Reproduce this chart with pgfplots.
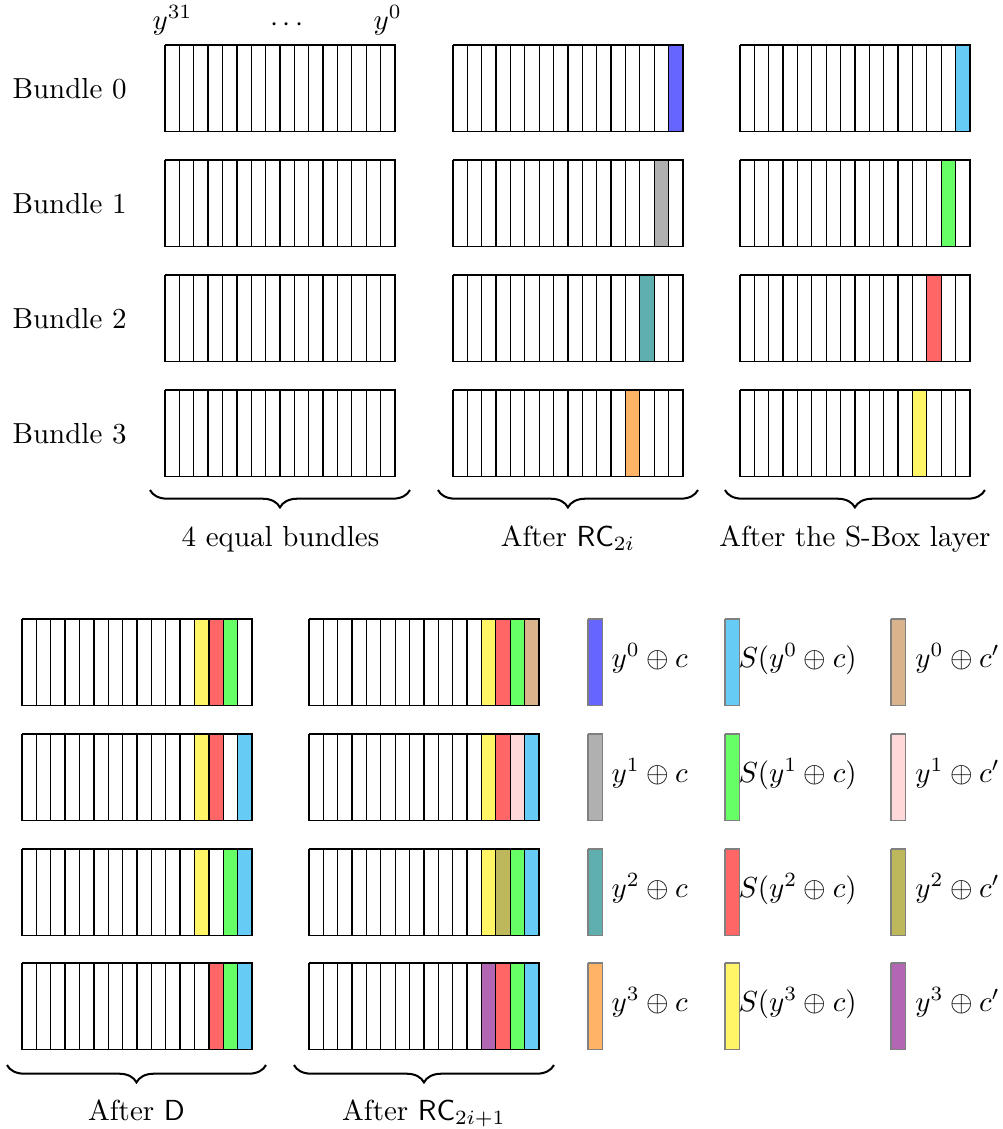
\documentclass[border=0pt]{standalone}
\usepackage{pgfplots}
\pgfplotsset{compat=1.18}
\usetikzlibrary{decorations.pathreplacing}
\definecolor{cB}{HTML}{6666FF}
\definecolor{cG}{HTML}{B0B0B0}
\definecolor{cT}{HTML}{60AFAF}
\definecolor{cO}{HTML}{FFB366}
\definecolor{cC}{HTML}{66CCF5}
\definecolor{cGr}{HTML}{66FF66}
\definecolor{cR}{HTML}{FF6666}
\definecolor{cY}{HTML}{FFF566}
\definecolor{cTan}{HTML}{D9B38C}
\definecolor{cP}{HTML}{FFD9D9}
\definecolor{cOl}{HTML}{BDB85C}
\definecolor{cV}{HTML}{B366B3}
\newcommand\cellw{14.375}
% x0, y0 (top-left of block), column, fill, draw
\newcommand\cell[5]{%
  \pgfmathsetmacro\xa{#1+#3*\cellw}%
  \pgfmathsetmacro\xb{\xa+\cellw}%
  \pgfmathsetmacro\yb{#2+86.5}%
  \edef\tmp{\noexpand\addplot[draw=#5,fill=#4,line width=0.45pt,forget plot] coordinates {(\xa,#2) (\xb,#2) (\xb,\yb) (\xa,\yb) (\xa,#2)};}\tmp}
\newcommand\blk[2]{\pgfplotsinvokeforeach{0,...,15}{\cell{#1}{#2}{##1}{white}{black}}}
\newcommand\cc[4]{\cell{#1}{#2}{#3}{#4}{black}}
\newcommand\lb[3]{\cell{#1}{#2}{0}{#3}{gray}}
\begin{document}
\begin{tikzpicture}
\begin{axis}[
  width=346pt, height=389.5pt, scale only axis,
  xmin=0, xmax=1003, ymin=0, ymax=1129, y dir=reverse,
  hide axis, clip=false]
% empty bundles
\blk{165}{45}\blk{165}{160}\blk{165}{275}\blk{165}{390}
\blk{453}{45}\blk{453}{160}\blk{453}{275}\blk{453}{390}
\blk{740}{45}\blk{740}{160}\blk{740}{275}\blk{740}{390}
\blk{22}{619}\blk{22}{734}\blk{22}{849}\blk{22}{963}
\blk{309}{619}\blk{309}{734}\blk{309}{849}\blk{309}{963}
% After RC_2i
\cc{453}{45}{15}{cB}\cc{453}{160}{14}{cG}\cc{453}{275}{13}{cT}\cc{453}{390}{12}{cO}
% After S-box
\cc{740}{45}{15}{cC}\cc{740}{160}{14}{cGr}\cc{740}{275}{13}{cR}\cc{740}{390}{12}{cY}
% After D
\cc{22}{619}{12}{cY}\cc{22}{619}{13}{cR}\cc{22}{619}{14}{cGr}
\cc{22}{734}{12}{cY}\cc{22}{734}{13}{cR}\cc{22}{734}{15}{cC}
\cc{22}{849}{12}{cY}\cc{22}{849}{14}{cGr}\cc{22}{849}{15}{cC}
\cc{22}{963}{13}{cR}\cc{22}{963}{14}{cGr}\cc{22}{963}{15}{cC}
% After RC_2i+1
\cc{309}{619}{12}{cY}\cc{309}{619}{13}{cR}\cc{309}{619}{14}{cGr}\cc{309}{619}{15}{cTan}
\cc{309}{734}{12}{cY}\cc{309}{734}{13}{cR}\cc{309}{734}{14}{cP}\cc{309}{734}{15}{cC}
\cc{309}{849}{12}{cY}\cc{309}{849}{13}{cOl}\cc{309}{849}{14}{cGr}\cc{309}{849}{15}{cC}
\cc{309}{963}{12}{cV}\cc{309}{963}{13}{cR}\cc{309}{963}{14}{cGr}\cc{309}{963}{15}{cC}
% legend bars
\lb{588}{619}{cB}\lb{588}{734}{cG}\lb{588}{849}{cT}\lb{588}{963}{cO}
\lb{725}{619}{cC}\lb{725}{734}{cGr}\lb{725}{849}{cR}\lb{725}{963}{cY}
\lb{891}{619}{cTan}\lb{891}{734}{cP}\lb{891}{849}{cOl}\lb{891}{963}{cV}
% texts
\node[anchor=base west,inner sep=0] at (12,98) {Bundle 0};
\node[anchor=base west,inner sep=0] at (12,213) {Bundle 1};
\node[anchor=base west,inner sep=0] at (12,328) {Bundle 2};
\node[anchor=base west,inner sep=0] at (12,443) {Bundle 3};
\node[anchor=base west,inner sep=0] at (152,29) {$y^{31}$};
\node[anchor=base,inner sep=0] at (287,31) {$\cdots$};
\node[anchor=base west,inner sep=0] at (373,29) {$y^{0}$};
% legend texts
\node[anchor=base west,inner sep=0] at (611,667.5) {$y^0\oplus c$};
\node[anchor=base west,inner sep=0] at (611,782.5) {$y^1\oplus c$};
\node[anchor=base west,inner sep=0] at (611,897.5) {$y^2\oplus c$};
\node[anchor=base west,inner sep=0] at (611,1011.5) {$y^3\oplus c$};
\node[anchor=base west,inner sep=0] at (738,667.5) {$S(y^0\oplus c)$};
\node[anchor=base west,inner sep=0] at (738,782.5) {$S(y^1\oplus c)$};
\node[anchor=base west,inner sep=0] at (738,897.5) {$S(y^2\oplus c)$};
\node[anchor=base west,inner sep=0] at (738,1011.5) {$S(y^3\oplus c)$};
\node[anchor=base west,inner sep=0] at (915,667.5) {$y^0\oplus c'$};
\node[anchor=base west,inner sep=0] at (915,782.5) {$y^1\oplus c'$};
\node[anchor=base west,inner sep=0] at (915,897.5) {$y^2\oplus c'$};
\node[anchor=base west,inner sep=0] at (915,1011.5) {$y^3\oplus c'$};
% braces
\draw[decorate,decoration={brace,mirror,amplitude=6pt},line width=0.7pt] (150,490) -- (410,490);
\draw[decorate,decoration={brace,mirror,amplitude=6pt},line width=0.7pt] (438,490) -- (698,490);
\draw[decorate,decoration={brace,mirror,amplitude=6pt},line width=0.7pt] (725,490) -- (985,490);
\draw[decorate,decoration={brace,mirror,amplitude=6pt},line width=0.7pt] (7,1065) -- (266,1065);
\draw[decorate,decoration={brace,mirror,amplitude=6pt},line width=0.7pt] (294,1065) -- (554,1065);
\node[anchor=base,inner sep=0] at (280.5,546) {4 equal bundles};
\node[anchor=base,inner sep=0] at (568,546) {After $\mathsf{RC}_{2i}$};
\node[anchor=base,inner sep=0] at (855,546) {After the S-Box layer};
\node[anchor=base,inner sep=0] at (136.5,1120) {After $\mathsf{D}$};
\node[anchor=base,inner sep=0] at (424,1120) {After $\mathsf{RC}_{2i+1}$};
\end{axis}
\pgfresetboundingbox
\useasboundingbox (current axis.south west) rectangle (current axis.north east);
\end{tikzpicture}
\end{document}
